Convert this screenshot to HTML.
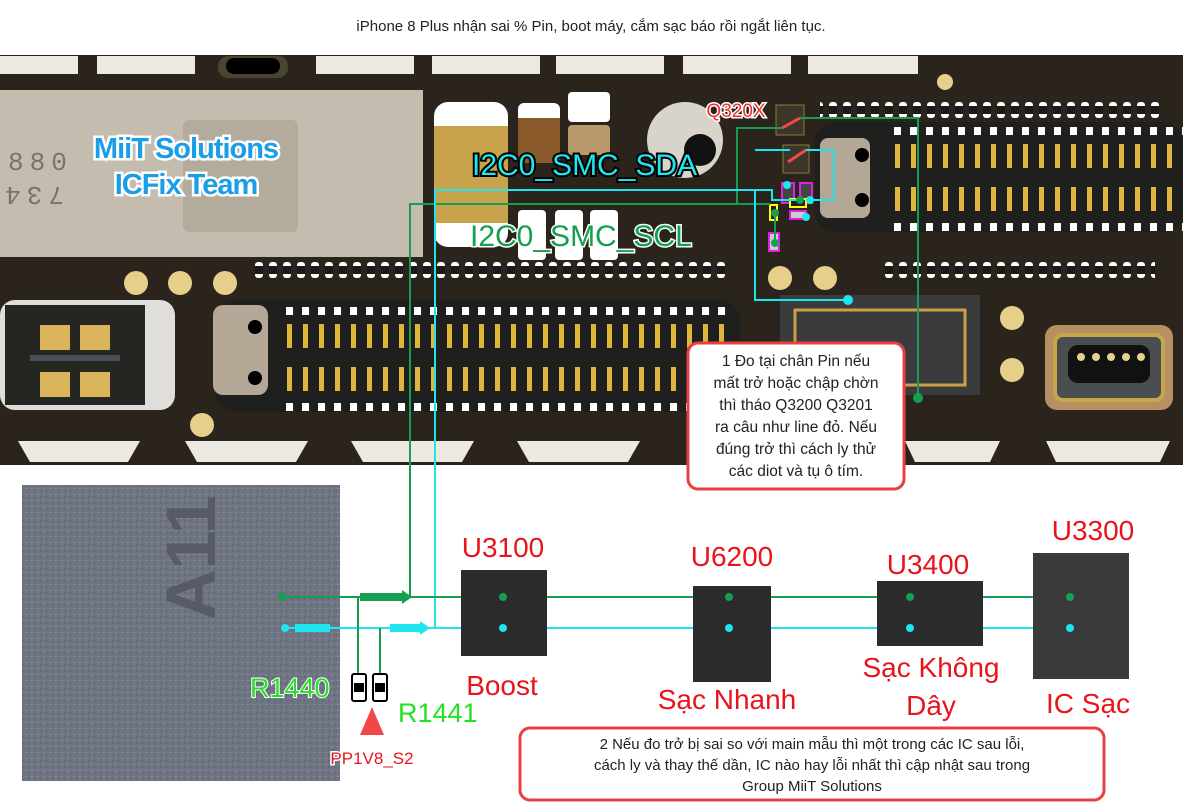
<!DOCTYPE html>
<html><head><meta charset="utf-8"><style>
html,body{margin:0;padding:0;background:#fff;}
svg{display:block;font-family:"Liberation Sans","DejaVu Sans",sans-serif;}
</style></head><body>
<svg width="1183" height="804" viewBox="0 0 1183 804" xmlns="http://www.w3.org/2000/svg">
<defs>
<pattern id="pads" x="0" y="0" width="16" height="200" patternUnits="userSpaceOnUse">
<rect x="4" y="0" width="7" height="8" fill="#fff"/>
<rect x="5" y="17" width="5" height="24" fill="#e0b53f"/>
<rect x="5" y="60" width="5" height="24" fill="#e0b53f"/>
<rect x="4" y="96" width="7" height="8" fill="#fff"/>
</pattern>
<pattern id="smd" x="0" y="0" width="14" height="20" patternUnits="userSpaceOnUse">
<rect x="3" y="2" width="8" height="16" rx="3" fill="#fff"/><rect x="3" y="6" width="8" height="8" fill="#1a1a1a"/>
</pattern>
<pattern id="noise" width="6" height="6" patternUnits="userSpaceOnUse">
<rect width="6" height="6" fill="#6f7483"/><rect x="1" y="2" width="2" height="1" fill="#8a8f9c"/><rect x="4" y="4" width="1" height="2" fill="#5d6170"/>
</pattern>
</defs>
<rect width="1183" height="804" fill="#fff"/>
<text x="591" y="31" font-size="15" text-anchor="middle" fill="#222">iPhone 8 Plus nhận sai % Pin, boot máy, cắm sạc báo rồi ngắt liên tục.</text>

<!-- board -->
<rect x="0" y="55" width="1183" height="410" fill="#2b241d"/>
<g fill="#ebe9e2">
<rect x="0" y="56" width="78" height="18"/><rect x="97" y="56" width="98" height="18"/>
<rect x="316" y="56" width="98" height="18"/><rect x="432" y="56" width="108" height="18"/>
<rect x="556" y="56" width="108" height="18"/><rect x="683" y="56" width="108" height="18"/><rect x="808" y="56" width="110" height="18"/>
<path d="M18 441 H140 L128 462 H30Z"/><path d="M185 441 H308 L296 462 H197Z"/><path d="M351 441 H474 L462 462 H363Z"/>
<path d="M517 441 H640 L628 462 H529Z"/><path d="M905 441 H1000 L990 462 H915Z"/><path d="M1046 441 H1170 L1160 462 H1056Z"/>
</g>
<rect x="218" y="56" width="70" height="22" rx="10" fill="#4a4430"/><rect x="226" y="58" width="54" height="16" rx="8" fill="#000"/>
<!-- shield -->
<rect x="0" y="90" width="423" height="167" fill="#c4bcae"/>
<rect x="183" y="120" width="115" height="112" rx="6" fill="#a9a290" opacity=".6"/>
<text x="8" y="170" font-size="26" fill="#7a7466" font-family="Liberation Mono,monospace" letter-spacing="6">880</text>
<text x="8" y="205" font-size="26" fill="#7a7466" font-family="Liberation Mono,monospace" letter-spacing="6" transform="rotate(180 36 196)">734</text>
<g font-size="29" text-anchor="middle" font-weight="bold" fill="#1a9ee8" stroke="#fff" stroke-width="5" paint-order="stroke" letter-spacing="-1">
<text x="186" y="158">MiiT Solutions</text><text x="186" y="194">ICFix Team</text></g>
<!-- caps -->
<rect x="434" y="102" width="74" height="145" rx="14" fill="#fff"/><rect x="434" y="126" width="74" height="97" fill="#c9a24c"/>
<rect x="518" y="103" width="42" height="60" rx="6" fill="#fff"/><rect x="518" y="118" width="42" height="45" fill="#8b5a2b"/>
<rect x="568" y="92" width="42" height="30" rx="4" fill="#fff"/><rect x="568" y="125" width="42" height="30" rx="4" fill="#b89a6a"/>
<rect x="518" y="210" width="28" height="50" rx="4" fill="#fff"/><rect x="555" y="210" width="28" height="50" rx="4" fill="#fff"/><rect x="590" y="210" width="28" height="50" rx="4" fill="#fff"/>
<circle cx="685" cy="140" r="38" fill="#d8d4cb"/><circle cx="700" cy="150" r="16" fill="#111"/>
<!-- connector rows -->
<rect x="215" y="300" width="525" height="112" rx="20" fill="#1f1f1d"/>
<g transform="translate(282,307)"><rect x="0" y="0" width="452" height="106" fill="url(#pads)"/></g>
<rect x="213" y="305" width="55" height="90" rx="10" fill="#b5a796"/>
<circle cx="255" cy="327" r="7" fill="#000"/><circle cx="255" cy="378" r="7" fill="#000"/>
<rect x="815" y="122" width="368" height="110" rx="20" fill="#1f1f1d"/>
<g transform="translate(890,127)"><rect x="0" y="0" width="293" height="106" fill="url(#pads)"/></g>
<rect x="820" y="138" width="50" height="80" rx="8" fill="#b5a796"/>
<circle cx="862" cy="155" r="7" fill="#000"/><circle cx="862" cy="200" r="7" fill="#000"/>
<rect x="0" y="300" width="175" height="110" rx="15" fill="#e0dedb"/>
<rect x="5" y="305" width="140" height="100" fill="#252522"/>
<rect x="40" y="325" width="30" height="25" fill="#d9b45a"/><rect x="80" y="325" width="30" height="25" fill="#d9b45a"/>
<rect x="40" y="372" width="30" height="25" fill="#d9b45a"/><rect x="80" y="372" width="30" height="25" fill="#d9b45a"/>
<rect x="30" y="355" width="90" height="6" fill="#4a5058"/>
<rect x="250" y="262" width="480" height="20" fill="url(#smd)"/>
<rect x="820" y="100" width="340" height="20" fill="url(#smd)"/>
<rect x="885" y="258" width="270" height="20" fill="url(#smd)"/>
<g fill="#e6cf8a"><circle cx="136" cy="283" r="12"/><circle cx="180" cy="283" r="12"/><circle cx="225" cy="283" r="12"/>
<circle cx="202" cy="425" r="12"/><circle cx="780" cy="278" r="12"/><circle cx="825" cy="278" r="12"/>
<circle cx="1012" cy="318" r="12"/><circle cx="1012" cy="370" r="12"/><circle cx="945" cy="82" r="8"/></g>
<rect x="780" y="295" width="200" height="100" fill="#3b3a3c"/>
<rect x="795" y="310" width="170" height="75" fill="none" stroke="#c9a046" stroke-width="3"/>
<rect x="1045" y="325" width="128" height="85" rx="12" fill="#b88e62"/>
<rect x="1055" y="335" width="108" height="65" rx="8" fill="#4b4e50" stroke="#c4a84c" stroke-width="4"/>
<rect x="1068" y="345" width="82" height="38" rx="10" fill="#111"/>
<g fill="#e6cf8a"><circle cx="1081" cy="357" r="4"/><circle cx="1096" cy="357" r="4"/><circle cx="1111" cy="357" r="4"/><circle cx="1126" cy="357" r="4"/><circle cx="1141" cy="357" r="4"/></g>

<!-- Q320X -->
<rect x="776" y="105" width="28" height="30" fill="#3d342a" stroke="#8a7a3a"/>
<rect x="783" y="145" width="26" height="28" fill="#3d342a" stroke="#8a7a3a"/>
<line x1="782" y1="128" x2="800" y2="118" stroke="#ef4b4b" stroke-width="3"/>
<line x1="788" y1="162" x2="806" y2="150" stroke="#ef4b4b" stroke-width="3"/>
<text x="736" y="117" font-size="19" fill="#f03030" text-anchor="middle" stroke="#fff" stroke-width="3" paint-order="stroke">Q320X</text>
<rect x="782" y="183" width="12" height="20" fill="#444" stroke="#e020e0" stroke-width="2"/>
<rect x="800" y="183" width="12" height="20" fill="#444" stroke="#e020e0" stroke-width="2"/>
<rect x="790" y="199" width="16" height="8" fill="#222" stroke="#ff0" stroke-width="2"/>
<rect x="770" y="205" width="7" height="15" fill="#222" stroke="#ff0" stroke-width="2"/>
<rect x="790" y="211" width="16" height="8" fill="#ccc" stroke="#e020e0" stroke-width="2"/>
<rect x="769" y="233" width="10" height="18" fill="#ccc" stroke="#e020e0" stroke-width="2"/>

<!-- A11 chip -->
<rect x="22" y="485" width="318" height="296" fill="url(#noise)"/>
<text x="215" y="620" font-size="70" font-weight="bold" fill="#575b68" transform="rotate(-90 215 620)">A11</text>

<!-- signal lines -->
<g fill="none" stroke-width="2">
<path d="M410 597 V204 H737 V128 H782 M800 118 H918 V398" stroke="#14a050"/>
<path d="M737 204 H770 M775 213 V240" stroke="#14a050"/>
<path d="M435 628 V190 H755 V300 H848 M755 150 H790 M806 150 H834 V200 H810 M755 190 H772 V200 H800" stroke="#1ee6ee"/>
<path d="M280 597 H1070" stroke="#14a050"/>
<path d="M285 628 H1070" stroke="#1ee6ee"/>
<path d="M358 597 V674 M380 628 V674" stroke="#14a050"/>
</g>
<path d="M360 593 L402 593 L402 590 L412 597 L402 604 L402 601 L360 601Z" fill="#14a050"/>
<path d="M390 624 L420 624 L420 621 L430 628 L420 635 L420 632 L390 632Z" fill="#1ee6ee"/>
<path d="M295 624 L330 624 L330 632 L295 632Z" fill="#1ee6ee"/>
<g fill="#14a050"><circle cx="282" cy="597" r="4"/><circle cx="918" cy="398" r="5"/><circle cx="775" cy="213" r="4"/><circle cx="775" cy="243" r="4"/><circle cx="800" cy="200" r="4"/></g>
<g fill="#1ee6ee"><circle cx="285" cy="628" r="4"/><circle cx="848" cy="300" r="5"/><circle cx="787" cy="185" r="4"/><circle cx="806" cy="217" r="4"/><circle cx="810" cy="200" r="4"/></g>

<text x="472" y="175" font-size="30" fill="#1ee6ee" stroke="#000" stroke-width="4" paint-order="stroke">I2C0_SMC_SDA</text>
<text x="470" y="246" font-size="30" fill="#14a050" stroke="#fff" stroke-width="3" paint-order="stroke">I2C0_SMC_SCL</text>

<!-- ICs -->
<rect x="461" y="570" width="86" height="86" fill="#2b2b2b"/>
<rect x="693" y="586" width="78" height="96" fill="#2b2b2b"/>
<rect x="877" y="581" width="106" height="65" fill="#2b2b2b"/>
<rect x="1033" y="553" width="96" height="126" fill="#3a3a3a"/>
<g fill="#14a050"><circle cx="503" cy="597" r="4"/><circle cx="729" cy="597" r="4"/><circle cx="910" cy="597" r="4"/><circle cx="1070" cy="597" r="4"/></g>
<g fill="#1ee6ee"><circle cx="503" cy="628" r="4"/><circle cx="729" cy="628" r="4"/><circle cx="910" cy="628" r="4"/><circle cx="1070" cy="628" r="4"/></g>
<g font-size="28" fill="#e8141c" text-anchor="middle">
<text x="503" y="557">U3100</text><text x="732" y="566">U6200</text><text x="928" y="574">U3400</text><text x="1093" y="540">U3300</text>
<text x="502" y="695">Boost</text><text x="727" y="709">Sạc Nhanh</text><text x="931" y="677">Sạc Không</text><text x="931" y="715">Dây</text><text x="1088" y="713">IC Sạc</text>
</g>
<!-- resistors -->
<rect x="352" y="674" width="14" height="27" rx="2" fill="#fff" stroke="#000" stroke-width="2"/><rect x="354" y="683" width="10" height="9" fill="#000"/>
<rect x="373" y="674" width="14" height="27" rx="2" fill="#fff" stroke="#000" stroke-width="2"/><rect x="375" y="683" width="10" height="9" fill="#000"/>
<text x="250" y="697" font-size="27" fill="#25e025" stroke="#fff" stroke-width="2" paint-order="stroke">R1440</text>
<text x="398" y="722" font-size="27" fill="#25e025">R1441</text>
<path d="M372 707 L384 735 L360 735Z" fill="#f04848"/>
<text x="372" y="764" font-size="17" fill="#e8141c" text-anchor="middle" stroke="#fff" stroke-width="3" paint-order="stroke">PP1V8_S2</text>

<!-- callouts -->
<rect x="688" y="343" width="216" height="146" rx="10" fill="#fff" stroke="#e84040" stroke-width="3"/>
<g font-size="15.5" fill="#222" text-anchor="middle">
<text x="796" y="366">1 Đo tại chân Pin nếu</text><text x="796" y="388">mất trở hoặc chập chờn</text>
<text x="796" y="410">thì tháo Q3200 Q3201</text><text x="796" y="432">ra câu như line đỏ. Nếu</text>
<text x="796" y="454">đúng trở thì cách ly thử</text><text x="796" y="476">các diot và tụ ô tím.</text></g>
<rect x="520" y="728" width="584" height="72" rx="10" fill="#fff" stroke="#e84040" stroke-width="3"/>
<g font-size="15" fill="#222" text-anchor="middle">
<text x="812" y="749">2 Nếu đo trở bị sai so với main mẫu thì một trong các IC sau lỗi,</text>
<text x="812" y="770">cách ly và thay thế dần, IC nào hay lỗi nhất thì cập nhật sau trong</text>
<text x="812" y="791">Group MiiT Solutions</text></g>
</svg>
</body></html>
